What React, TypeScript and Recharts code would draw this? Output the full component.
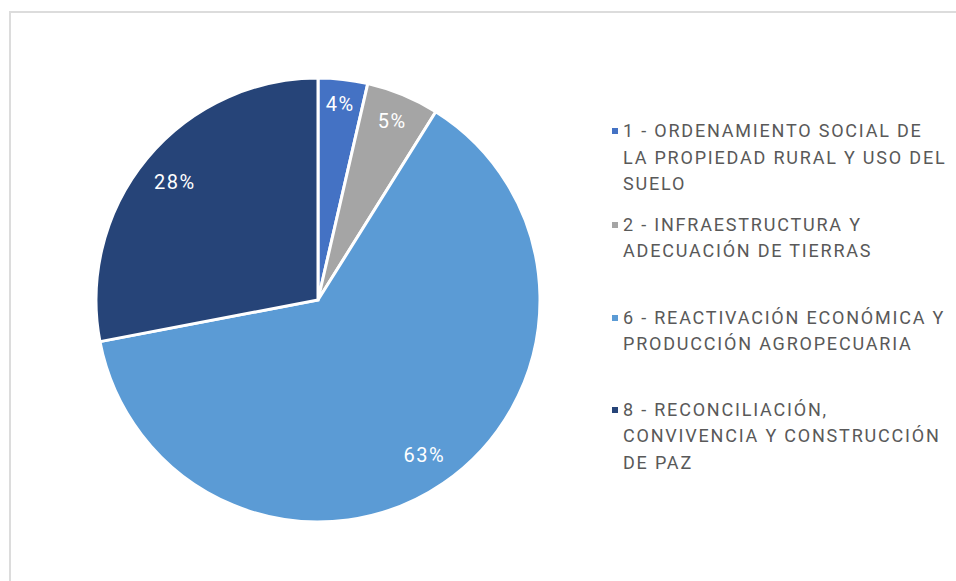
import { Pie, PieChart, Cell, Legend } from "recharts";

const categories = [
  "1 - ORDENAMIENTO SOCIAL DE LA PROPIEDAD RURAL Y USO DEL SUELO",
  "2 - INFRAESTRUCTURA Y ADECUACIÓN DE TIERRAS",
  "6 - REACTIVACIÓN ECONÓMICA Y PRODUCCIÓN AGROPECUARIA",
  "8 - RECONCILIACIÓN, CONVIVENCIA Y CONSTRUCCIÓN DE PAZ",
];
const values = [3.6, 5.3, 63.1, 28.0];
// cortes de línea como en la leyenda original
const legendLines = [
  ["1 - ORDENAMIENTO SOCIAL DE", "LA PROPIEDAD RURAL Y USO DEL", "SUELO"],
  ["2 - INFRAESTRUCTURA Y", "ADECUACIÓN DE TIERRAS"],
  ["6 - REACTIVACIÓN ECONÓMICA Y", "PRODUCCIÓN AGROPECUARIA"],
  ["8 - RECONCILIACIÓN,", "CONVIVENCIA Y CONSTRUCCIÓN", "DE PAZ"],
];
const colors = ["#4472c4", "#a5a5a5", "#5b9bd5", "#264478"];

const data = categories.map((name, i) => ({ name, value: values[i] }));

const FONT = "Roboto, 'Open Sans', sans-serif";
const RAD = Math.PI / 180;

// etiqueta "ajuste interior": la esquina exterior de la caja queda a ~15px del borde
function renderLabel(props: any) {
  const { cx, cy, midAngle, outerRadius, percent } = props;
  const text = `${Math.round(percent * 100)}%`;
  const hw = text.length * 7.3;
  const hh = 10;
  const c = Math.cos(-midAngle * RAD);
  const s = Math.sin(-midAngle * RAD);
  const r = outerRadius - 13 - (hw * Math.abs(c) + hh * Math.abs(s));
  return (
    <text
      x={cx + r * c}
      y={cy + r * s}
      fill="#ffffff"
      textAnchor="middle"
      dominantBaseline="central"
      fontSize={20}
      letterSpacing={1.5}
      fontFamily={FONT}
    >
      {text}
    </text>
  );
}

const itemGaps = [0, 14, 40, 39];

function renderLegend() {
  return (
    <div
      style={{
        fontFamily: FONT,
        fontSize: 18,
        letterSpacing: 1.8,
        color: "#595959",
        lineHeight: "26.5px",
      }}
    >
      {legendLines.map((lines, i) => (
        <div key={i} style={{ position: "relative", marginTop: itemGaps[i], paddingLeft: 11 }}>
          <span
            style={{
              position: "absolute",
              left: 0,
              top: 10,
              width: 6,
              height: 6,
              background: colors[i],
            }}
          />
          {lines.map((l, j) => (
            <div key={j} style={{ whiteSpace: "nowrap" }}>
              {l}
            </div>
          ))}
        </div>
      ))}
    </div>
  );
}

export default function App() {
  return (
    <div
      style={{
        position: "fixed",
        left: 0,
        top: 0,
        width: 956,
        height: 581,
        background: "#fff",
        overflow: "hidden",
      }}
    >
      <div
        style={{
          position: "absolute",
          left: 9,
          top: 11,
          width: 980,
          height: 600,
          borderTop: "2px solid #dcdcdc",
          borderLeft: "2px solid #dcdcdc",
        }}
      />
      <PieChart width={956} height={581} style={{ position: "absolute", left: 0, top: 0 }}>
        <Pie
          data={data}
          dataKey="value"
          cx={313}
          cy={295}
          outerRadius={222}
          startAngle={90}
          endAngle={-270}
          stroke="#ffffff"
          strokeWidth={3}
          label={renderLabel}
          labelLine={false}
          isAnimationActive={false}
        >
          {data.map((d, i) => (
            <Cell key={d.name} fill={colors[i]} />
          ))}
        </Pie>
        <Legend
          content={renderLegend}
          layout="vertical"
          wrapperStyle={{ position: "absolute", left: 612, top: 118, width: 330 }}
        />
      </PieChart>
    </div>
  );
}
